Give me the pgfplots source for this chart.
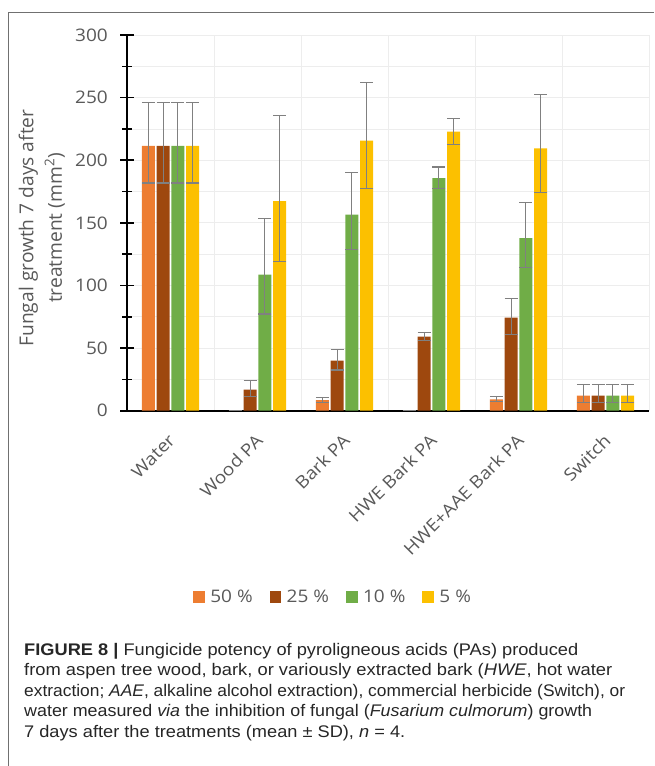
\documentclass[border=0pt]{standalone}
\usepackage{fontspec}
\setmainfont{Open Sans}[FakeStretch=1.1]
\newfontfamily\ylabfont{Open Sans}
\newfontfamily\capfont{Liberation Sans}[FakeStretch=1.1]
\usepackage{graphicx}
\usepackage{pgfplots}
\pgfplotsset{compat=1.18}
\usepackage{pgfplotstable}
\definecolor{cfifty}{HTML}{ED7D31}
\definecolor{ctwentyfive}{HTML}{9E480E}
\definecolor{cten}{HTML}{70AD47}
\definecolor{cfive}{HTML}{FCC000}
\definecolor{textgray}{HTML}{595959}
\definecolor{errgray}{HTML}{808080}
\definecolor{gridgray}{HTML}{EDEDED}
\definecolor{bordergray}{HTML}{707070}

% x: category index, y: mean, ep/em: upper/lower error
\pgfplotstableread{
x y ep em
0 211.4 34.8 29.6
1 0 0 0
2 8.5 1.9 2.1
3 0 0 0
4 9.1 2.1 1.9
5 12.0 9.0 5.3
}\tfifty
\pgfplotstableread{
x y ep em
0 211.4 34.8 29.6
1 16.8 7.4 5.6
2 39.9 8.8 7.4
3 59.1 3.5 2.7
4 74.3 15.4 13.3
5 12.0 9.0 5.3
}\ttwentyfive
\pgfplotstableread{
x y ep em
0 211.4 34.8 29.6
1 108.6 44.7 31.4
2 156.5 33.6 27.7
3 185.8 8.8 8.3
4 137.9 28.2 23.4
5 12.0 9.0 5.3
}\tten
\pgfplotstableread{
x y ep em
0 211.4 34.8 29.6
1 167.4 68.2 48.4
2 215.6 46.3 38.1
3 222.8 10.4 10.1
4 209.5 42.8 35.1
5 12.0 9.0 5.3
}\tfive

\pgfplotsset{
  ebar/.style={error bars/.cd, y dir=both, y explicit,
    error bar style={line width=1.1pt, color=errgray},
    error mark options={rotate=90, mark size=6.5pt, line width=1.1pt, color=errgray}}
}

\begin{document}
\begin{tikzpicture}
\useasboundingbox (0,-766pt) rectangle (654pt,0pt);
\draw[line width=1pt, color=bordergray] (654pt,-12pt) -- (8pt,-12pt) -- (8pt,-766pt);
\begin{axis}[
  at={(127pt,-410.7pt)}, anchor=south west,
  scale only axis, width=522pt, height=375.7pt,
  xmin=-0.5, xmax=5.5, ymin=0, ymax=300,
  ybar=1.7pt, bar width=13pt,
  xtick={0,...,5},
  xticklabels={Water, Wood PA, Bark PA, HWE Bark PA, HWE+AAE Bark PA, Switch},
  minor xtick={-0.5,0.5,...,5.5},
  ytick={0,50,...,300}, minor ytick={25,75,...,275},
  xmajorgrids=false, xminorgrids=true, ymajorgrids=true, yminorgrids=true,
  major grid style={draw=gridgray, line width=0.8pt},
  minor grid style={draw=gridgray, line width=0.8pt},
  axis x line*=bottom, axis y line*=left,
  x axis line style={line width=2pt, black},
  y axis line style={line width=1.8pt, black},
  xtick style={draw=none},
  ytick style={line width=1.6pt, black},
  tick align=center, major tick length=14pt, minor tick length=10pt,
  /pgf/number format/assume math mode=true,
  tick label style={font=\fontsize{17.3}{20}\selectfont, text=textgray},
  yticklabel style={inner sep=0pt, xshift=-12pt},
  xticklabel style={xshift=-3pt, yshift=-15pt, rotate=45, anchor=north east, inner sep=0pt},
  legend columns=4,
  legend style={at={(0.393,-0.496)}, anchor=center, draw=none, fill=none,
    font=\fontsize{17.3}{20}\selectfont, text=textgray,
    nodes={inner sep=0pt},
    /tikz/every odd column/.append style={column sep=5.4pt},
    /tikz/every even column/.append style={column sep=17pt}},
  legend image code/.code={\fill[#1] (0pt,-5.8pt) rectangle (11.6pt,5.8pt);},
]
\addplot[fill=cfifty, draw=none, ebar] table[x=x, y=y, y error plus=ep, y error minus=em]{\tfifty};
\addplot[fill=ctwentyfive, draw=none, ebar] table[x=x, y=y, y error plus=ep, y error minus=em]{\ttwentyfive};
\addplot[fill=cten, draw=none, ebar] table[x=x, y=y, y error plus=ep, y error minus=em]{\tten};
\addplot[fill=cfive, draw=none, ebar] table[x=x, y=y, y error plus=ep, y error minus=em]{\tfive};
\legend{50 \%, 25 \%, 10 \%, 5 \%}
\end{axis}
\node[rotate=90, align=center, inner sep=0pt, text=textgray,
  font=\ylabfont\fontsize{19.2}{28.5}\selectfont] at (41.75pt,-228pt)
  {Fungal growth 7 days after\\treatment (mm\textsuperscript{2})};
\begin{scope}[every node/.style={anchor=base west, inner sep=0pt, text=black!85,
  font=\capfont\fontsize{16.8}{20}\selectfont}]
\node at (24pt,-655pt) {\resizebox{554pt}{\height}{\textbf{FIGURE 8 |} Fungicide potency of pyroligneous acids (PAs) produced}};
\node at (24pt,-675.6pt) {\resizebox{588pt}{\height}{from aspen tree wood, bark, or variously extracted bark (\textit{HWE}, hot water}};
\node at (24pt,-696.2pt) {\resizebox{601pt}{\height}{extraction; \textit{AAE}, alkaline alcohol extraction), commercial herbicide (Switch), or}};
\node at (24pt,-716.8pt) {\resizebox{568pt}{\height}{water measured \textit{via} the inhibition of fungal (\textit{Fusarium culmorum}) growth}};
\node at (24pt,-737.4pt) {\resizebox{381pt}{\height}{7 days after the treatments (mean ± SD), \textit{n} = 4.}};
\end{scope}
\end{tikzpicture}
\end{document}
